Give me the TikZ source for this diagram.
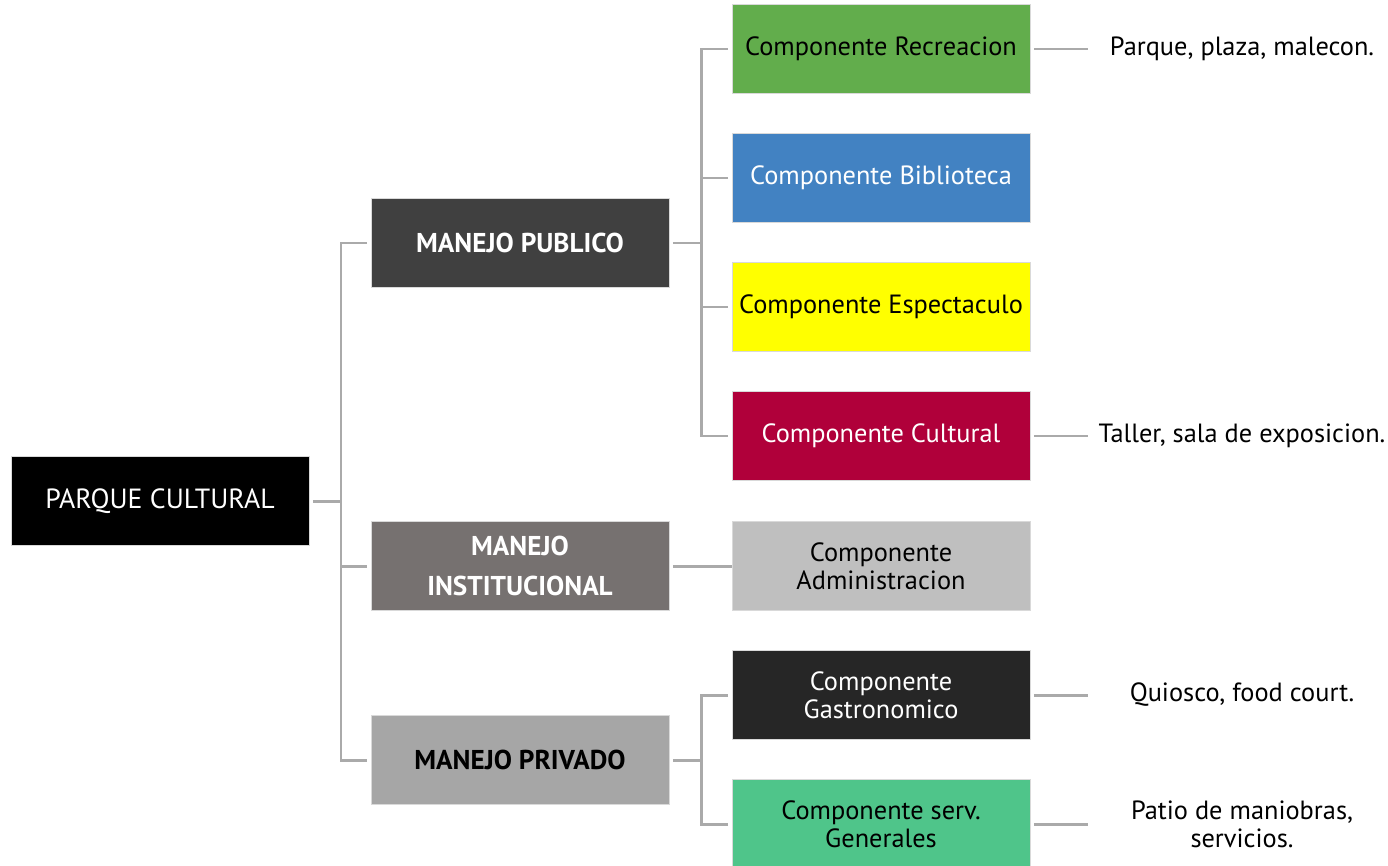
\documentclass[tikz,border=0pt]{standalone}
\usepackage{fontspec}
\setmainfont{PT Sans}
\usepackage{xcolor}
\definecolor{pcblack}{RGB}{0,0,0}
\definecolor{pcdark}{RGB}{64,64,64}
\definecolor{pctaupe}{RGB}{118,113,112}
\definecolor{pcgray}{RGB}{166,166,166}
\definecolor{pcgreen}{RGB}{98,173,76}
\definecolor{pcblue}{RGB}{66,130,194}
\definecolor{pcyellow}{RGB}{255,255,0}
\definecolor{pccrimson}{RGB}{176,0,58}
\definecolor{pclight}{RGB}{191,191,191}
\definecolor{pccoal}{RGB}{38,38,38}
\definecolor{pcmint}{RGB}{79,197,138}
\definecolor{pcline}{RGB}{170,170,170}
\usetikzlibrary{positioning,calc}
\tikzset{
  rootbox/.style={fill=#1, draw=white!85!black, line width=0.4pt, text=white,
                  font=\fontsize{15.8}{18}\selectfont,
                  minimum width=5.96cm, minimum height=1.78cm, align=center},
  mbox/.style={fill=#1, draw=white!85!black, line width=0.4pt,
               font=\fontsize{15.5}{22.5}\selectfont\bfseries,
               minimum width=5.96cm, minimum height=1.78cm, align=center},
  cbox/.style={fill=#1, draw=white!85!black, line width=0.4pt,
               font=\fontsize{15}{16}\selectfont,
               minimum width=5.96cm, minimum height=1.78cm, align=center},
  note/.style={font=\fontsize{15}{16}\selectfont, align=center},
  link/.style={draw=pcline, line width=1.7pt, shorten <=0.07cm},
}
\begin{document}
\begin{tikzpicture}[x=0.02cm, y=-0.02cm]
  \useasboundingbox (0,0) rectangle (1388,865);

  % Root
  \node[rootbox=pcblack] (root) at (160,501) {PARQUE CULTURAL};

  % Manejo level
  \node[mbox=pcdark, text=white] (mpub) at (520,243) {MANEJO PUBLICO};
  \node[mbox=pctaupe, text=white] (minst) at (520,566) {MANEJO\\INSTITUCIONAL};
  \node[mbox=pcgray, text=black] (mpriv) at (520,760) {MANEJO PRIVADO};

  % Components
  \node[cbox=pcgreen, text=black] (crec) at (881,49) {Componente Recreacion};
  \node[cbox=pcblue, text=white] (cbib) at (881,178) {Componente Biblioteca};
  \node[cbox=pcyellow, text=black] (cesp) at (881,307) {Componente Espectaculo};
  \node[cbox=pccrimson, text=white] (ccul) at (881,436) {Componente Cultural};
  \node[cbox=pclight, text=black] (cadm) at (881,566) {Componente\\Administracion};
  \node[cbox=pccoal, text=white] (cgas) at (881,695) {Componente\\Gastronomico};
  \node[cbox=pcmint, text=black] (cgen) at (881,824) {Componente serv.\\Generales};

  % Descriptions
  \node[note] (drec) at (1242,49) {Parque, plaza, malecon.};
  \node[note] (dcul) at (1242,436) {Taller, sala de exposicion.};
  \node[note] (dgas) at (1242,695) {Quiosco, food court.};
  \node[note] (dgen) at (1242,824) {Patio de maniobras,\\servicios.};

  % Trunk points
  \coordinate (t0) at (341,501);
  \coordinate (t1) at (701,243);
  \coordinate (t3) at (701,760);

  % Root to manejo
  \draw[link] (root.east) -- (t0);
  \draw[link] (mpub.west) -| (t0);
  \draw[link] (mpriv.west) -| (t0);
  \draw[link] (minst.west) -- (minst.west -| t0);

  % Manejo to components
  \draw[link] (mpub.east) -- (t1);
  \foreach \c in {crec,cbib,cesp,ccul}
    \draw[link] (\c.west) -| (t1);
  \draw[link] (minst.east) -- (cadm.west);
  \draw[link] (mpriv.east) -- (t3);
  \foreach \c in {cgas,cgen}
    \draw[link] (\c.west) -| (t3);

  % Components to descriptions
  \foreach \c in {crec,ccul,cgas,cgen}
    \draw[link] (\c.east) -- ++(58,0);

\end{tikzpicture}
\end{document}
